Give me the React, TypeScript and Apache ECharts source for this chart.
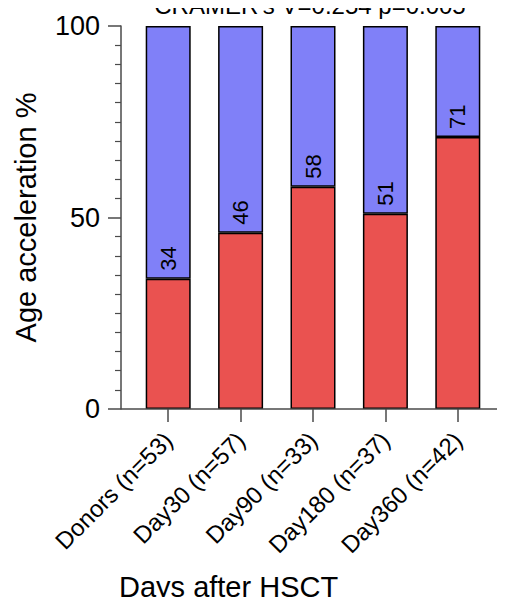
import React, { useEffect, useRef } from "react";
import * as echarts from "echarts";

const categories = ["Donors (n=53)", "Day30 (n=57)", "Day90 (n=33)", "Day180 (n=37)", "Day360 (n=42)"];
const accelerated = [34, 46, 58, 51, 71];
const notAccelerated = accelerated.map((v) => 100 - v);
const yTicks = [0, 50, 100];
const titleText = "CRAMER's V=0.254 p=0.005";
const yName = "Age acceleration %";
const xName = "Days after HSCT";

const FONT = "'Liberation Sans', Arial, sans-serif";
const RED = "#EA5250";
const BLUE = "#8080F8";
const AXIS = "#4a4a4a";

export default function App() {
  const ref = useRef<HTMLDivElement>(null);
  useEffect(() => {
    if (!ref.current) return;
    const chart = echarts.init(ref.current, null, { renderer: "svg" });
    const gridLeft = 132;
    const gridRight = 12;
    const gridTop = 26;
    const gridBottom = 196;
    const H = 605;
    const W = 506;
    chart.setOption({
      animation: false,
      textStyle: { fontFamily: FONT },
      grid: { left: gridLeft, right: gridRight, top: gridTop, bottom: gridBottom, containLabel: false },
      xAxis: {
        type: "category",
        data: categories,
        axisLine: { show: false },
        axisTick: { show: true, alignWithLabel: true, length: 13, lineStyle: { color: AXIS, width: 1.5 } },
        axisLabel: { rotate: 45, fontSize: 24, margin: 27, color: "#000", fontFamily: FONT },
      },
      yAxis: {
        type: "value",
        min: 0,
        max: 100,
        interval: 50,
        offset: 11,
        name: yName,
        nameLocation: "middle",
        nameGap: 81,
        nameRotate: 90,
        nameTextStyle: { fontSize: 29, color: "#000", fontFamily: FONT },
        axisLine: { show: true, lineStyle: { color: AXIS, width: 1.5 } },
        axisTick: { show: true, length: 13, lineStyle: { color: AXIS, width: 1.5 } },
        minorTick: { show: true, splitNumber: 10, length: 6, lineStyle: { color: AXIS, width: 1.2 } },
        splitLine: { show: false },
        minorSplitLine: { show: false },
        axisLabel: {
          fontSize: 27,
          color: "#000",
          margin: 21,
          fontFamily: FONT,
          formatter: (v: number) => (yTicks.includes(v) ? String(v) : ""),
        },
      },
      series: [
        {
          type: "bar",
          stack: "s",
          data: accelerated,
          barWidth: 45,
          itemStyle: { color: RED, borderColor: "#000", borderWidth: 1.5 },
          label: {
            show: true,
            position: "top",
            rotate: 90,
            align: "left",
            verticalAlign: "middle",
            distance: 8,
            fontSize: 22,
            color: "#000",
            fontFamily: FONT,
          },
        },
        {
          type: "bar",
          stack: "s",
          data: notAccelerated,
          barWidth: 45,
          itemStyle: { color: BLUE, borderColor: "#000", borderWidth: 1.5 },
        },
      ],
      graphic: [
        {
          type: "line",
          shape: { x1: gridLeft - 11, y1: H - gridBottom, x2: W - 9, y2: H - gridBottom },
          style: { stroke: AXIS, lineWidth: 1.5 },
          z: 10,
        },
        {
          type: "text",
          x: 310,
          y: 17,
          style: { text: titleText, font: `24px ${FONT}`, fill: "#000", align: "center", verticalAlign: "bottom" },
        },
        {
          type: "text",
          x: 119,
          y: 572,
          style: { text: xName, font: `29px ${FONT}`, fill: "#000", align: "left", verticalAlign: "top" },
        },
      ],
    });
    return () => chart.dispose();
  }, []);
  return <div ref={ref} style={{ width: 506, height: 605, margin: -8 }} />;
}
